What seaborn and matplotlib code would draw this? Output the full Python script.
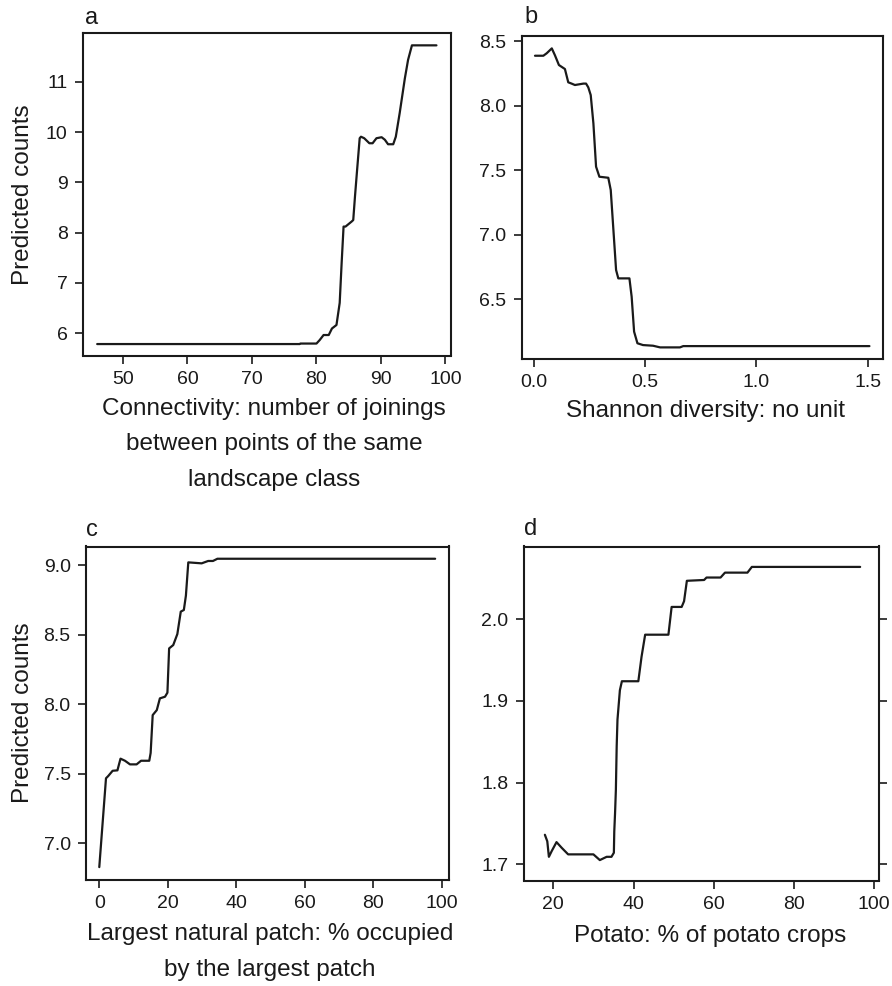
import matplotlib
matplotlib.use("Agg")
import matplotlib.pyplot as plt
import seaborn as sns
import pandas as pd

# ---- data ----
a_x = [46.0, 77.4, 77.5, 80.0, 80.5, 81.1, 81.9, 82.4, 83.1, 83.6, 83.9, 84.2, 84.5, 85.45, 85.7,
       85.97, 86.3, 86.7, 86.9, 87.4, 88.2, 88.7, 89.3, 90.1, 90.6, 91.1, 91.9, 92.3, 92.9,
       93.7, 94.2, 94.8, 98.6]
a_y = [5.78, 5.78, 5.79, 5.79, 5.86, 5.96, 5.96, 6.09, 6.16, 6.6, 7.39, 8.12, 8.12, 8.22, 8.25,
       8.72, 9.25, 9.88, 9.91, 9.88, 9.78, 9.78, 9.88, 9.90, 9.85, 9.76, 9.76, 9.91, 10.38,
       11.07, 11.44, 11.73, 11.73]

b_x = [0.0045, 0.042, 0.057, 0.08, 0.094, 0.112, 0.139, 0.154, 0.169, 0.184, 0.222, 0.234,
       0.244, 0.255, 0.267, 0.279, 0.294, 0.334, 0.345, 0.357, 0.369, 0.379, 0.429, 0.439,
       0.45, 0.465, 0.49, 0.535, 0.567, 0.656, 0.671, 1.508]
b_y = [8.386, 8.386, 8.405, 8.443, 8.39, 8.314, 8.283, 8.18, 8.17, 8.159, 8.17, 8.17,
       8.141, 8.081, 7.862, 7.526, 7.448, 7.44, 7.345, 7.035, 6.725, 6.66, 6.66, 6.518,
       6.247, 6.157, 6.143, 6.138, 6.125, 6.125, 6.135, 6.135]

c_x = [0.0, 1.96, 2.6, 3.9, 5.3, 6.2, 7.5, 8.97, 10.9, 12.2, 14.6, 15.0, 15.6, 16.8, 17.7,
       19.2, 19.9, 20.4, 21.6, 22.8, 23.8, 24.7, 25.3, 26.0, 29.9, 31.8, 33.2, 34.5, 98.1]
c_y = [6.83, 7.468, 7.484, 7.522, 7.525, 7.609, 7.594, 7.568, 7.568, 7.594, 7.594, 7.65, 7.922,
       7.958, 8.042, 8.054, 8.083, 8.401, 8.425, 8.504, 8.665, 8.677, 8.78, 9.019, 9.012,
       9.029, 9.029, 9.045, 9.045]

d_x = [17.9, 18.5, 18.9, 19.6, 20.8, 22.1, 23.7, 30.0, 31.6, 33.3, 34.5, 35.1, 35.2, 35.4,
       35.6, 35.8, 36.0, 36.6, 37.1, 41.2, 42.0, 42.9, 48.7, 49.5, 52.0, 52.6, 53.3, 57.6,
       58.2, 61.7, 62.8, 68.4, 69.5, 96.5]
d_y = [1.736, 1.728, 1.709, 1.716, 1.727, 1.720, 1.712, 1.712, 1.705, 1.709, 1.709, 1.714,
       1.740, 1.763, 1.791, 1.844, 1.877, 1.913, 1.924, 1.924, 1.954, 1.981, 1.981, 2.015,
       2.015, 2.022, 2.047, 2.048, 2.051, 2.051, 2.057, 2.057, 2.064, 2.064]

a_xticks = [50, 60, 70, 80, 90, 100]
a_yticks = [6, 7, 8, 9, 10, 11]
b_xticks = [0.0, 0.5, 1.0, 1.5]
b_yticks = [6.5, 7.0, 7.5, 8.0, 8.5]
c_xticks = [0, 20, 40, 60, 80, 100]
c_yticks = [7.0, 7.5, 8.0, 8.5, 9.0]
d_xticks = [20, 40, 60, 80, 100]
d_yticks = [1.7, 1.8, 1.9, 2.0]

panel_letters = ["a", "b", "c", "d"]
xlabels = [
    "Connectivity: number of joinings\nbetween points of the same\nlandscape class",
    "Shannon diversity: no unit",
    "Largest natural patch: % occupied\nby the largest patch",
    "Potato: % of potato crops",
]
ylabel = "Predicted counts"

# ---- style ----
sns.set_theme(style="ticks")
plt.rcParams["font.family"] = ["Liberation Sans", "DejaVu Sans"]

W, H = 892, 986
fig = plt.figure(figsize=(W / 100, H / 100), dpi=100)

def box(l, r, t, b):
    return [l / W, (H - b) / H, (r - l) / W, (b - t) / H]

rects = [box(83, 450.5, 33.5, 355.5), box(521.5, 883, 36, 359),
         box(86, 448.5, 546.5, 879.5), box(523.5, 879, 546.5, 880.5)]
xlims = [(43.8, 100.78), (-0.0562, 1.569), (-3.88, 102.0), (12.57, 101.2)]
ylims = [(5.552, 11.966), (6.035, 8.539), (6.741, 9.133), (1.680, 2.089)]
xticks = [a_xticks, b_xticks, c_xticks, d_xticks]
yticks = [a_yticks, b_yticks, c_yticks, d_yticks]
ytfmt = ["{:d}", "{:.1f}", "{:.1f}", "{:.1f}"]
xtfmt = ["{:d}", "{:.1f}", "{:d}", "{:d}"]
datasets = [(a_x, a_y), (b_x, b_y), (c_x, c_y), (d_x, d_y)]
letter_pos = [(85, 18), (524, 17), (86, 530), (524, 529)]
xlabel_cx = [274, 705.5, 270, 710]
xlabel_pad = [7, 6, 8, 9]

INK = "#1a1a1a"
for i in range(4):
    ax = fig.add_axes(rects[i])
    df = pd.DataFrame({"x": datasets[i][0], "y": datasets[i][1]})
    sns.lineplot(data=df, x="x", y="y", ax=ax, color=INK, linewidth=1.6,
                 estimator=None, sort=False)
    ax.set_xlim(*xlims[i])
    ax.set_ylim(*ylims[i])
    ax.set_xticks(xticks[i])
    ax.set_xticklabels([xtfmt[i].format(v) for v in xticks[i]])
    ax.set_yticks(yticks[i])
    ax.set_yticklabels([ytfmt[i].format(v) for v in yticks[i]])
    for s in ax.spines.values():
        s.set_visible(True)
        s.set_linewidth(1.5)
        s.set_color(INK)
        s.set_capstyle("projecting")
    ax.tick_params(axis="both", direction="out", length=6, width=1.2, color=INK,
                   labelsize=14, labelcolor=INK, pad=5)
    if i == 3:
        ax.tick_params(axis="y", right=True, labelright=False)
    ax_l = rects[i][0] * W
    ax_w = rects[i][2] * W
    ax.set_xlabel(xlabels[i], fontsize=17.5, color=INK, linespacing=1.82,
                  labelpad=xlabel_pad[i])
    ax.xaxis.label.set_x((xlabel_cx[i] - ax_l) / ax_w)
    if i in (0, 2):
        ax.set_ylabel(ylabel, fontsize=17.5, color=INK)
        ax.yaxis.set_label_coords((34 - ax_l) / ax_w, 0.5)
    else:
        ax.set_ylabel("")
    fig.text(letter_pos[i][0] / W, 1 - letter_pos[i][1] / H, panel_letters[i],
             fontsize=17, color=INK, ha="left", va="center")

fig.savefig("out.png", dpi=100, facecolor="white")
